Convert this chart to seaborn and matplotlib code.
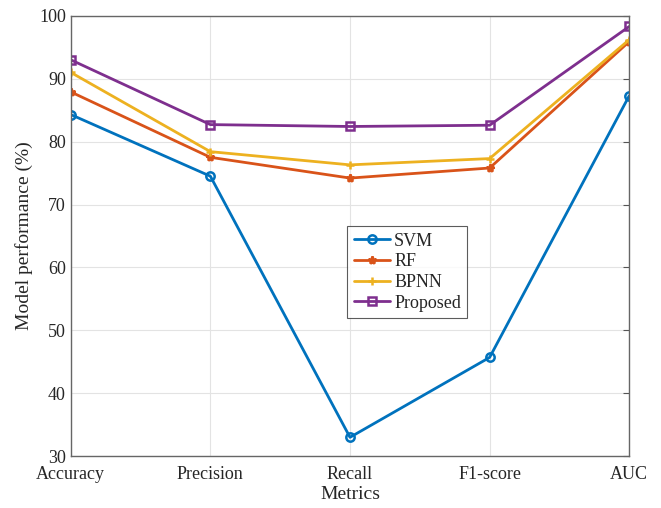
import pandas as pd
import matplotlib
matplotlib.use("Agg")
import matplotlib.pyplot as plt
import seaborn as sns

# dados
metricas = ["Accuracy", "Precision", "Recall", "F1-score", "AUC"]
svm = [84.3, 74.5, 33.0, 45.7, 87.3]
rf = [87.9, 77.5, 74.2, 75.8, 95.9]
bpnn = [91.0, 78.4, 76.3, 77.3, 96.2]
proposed = [93.0, 82.7, 82.4, 82.6, 98.3]
modelos = ["SVM", "RF", "BPNN", "Proposed"]

linhas = []
for nome, vals in zip(modelos, [svm, rf, bpnn, proposed]):
    for i, v in enumerate(vals):
        linhas.append({"Model": nome, "idx": i, "value": v})
df = pd.DataFrame(linhas)

sns.set_style("white")
plt.rcParams["font.family"] = ["Liberation Serif", "DejaVu Serif"]

cores = ["#0072BD", "#D95319", "#EDB120", "#7E2F8E"]
marcadores = ["o", "*", "+", "s"]

fig = plt.figure(figsize=(6.61, 5.08), dpi=100)
ax = fig.add_axes([0.107, 0.102, 0.845, 0.867])

for nome, cor, mk in zip(modelos, cores, marcadores):
    sub = df[df["Model"] == nome]
    sns.lineplot(data=sub, x="idx", y="value", ax=ax, color=cor, marker=mk,
                 markersize=6, markerfacecolor="none" if mk in ("o", "s") else cor,
                 markeredgecolor=cor, markeredgewidth=1.8, linewidth=2, label=nome)

ax.set_xlim(0, 4)
ax.set_ylim(30, 100)
ax.set_xticks(range(5))
ax.set_xticklabels(metricas, fontsize=13)
ax.set_yticks(range(30, 101, 10))
ax.tick_params(axis="y", labelsize=13)
ax.tick_params(direction="in", length=4, color="#555555", top=False, right=True)
ax.tick_params(axis="x", pad=7)
ax.set_xlabel("Metrics", fontsize=14, labelpad=2)
ax.set_ylabel("Model performance (%)", fontsize=14)
ax.grid(True, color="#e3e3e3", linewidth=0.8)
for s in ax.spines.values():
    s.set_color("#666666")
    s.set_linewidth(1.0)

leg = ax.legend(loc="lower left", bbox_to_anchor=(0.495, 0.314), borderaxespad=0,
                fontsize=13, frameon=True, fancybox=False, edgecolor="#333333",
                handlelength=2.0, handletextpad=0.25, borderpad=0.35,
                labelspacing=0.2)
leg.get_frame().set_linewidth(0.8)

fig.savefig("out.png", dpi=100)
